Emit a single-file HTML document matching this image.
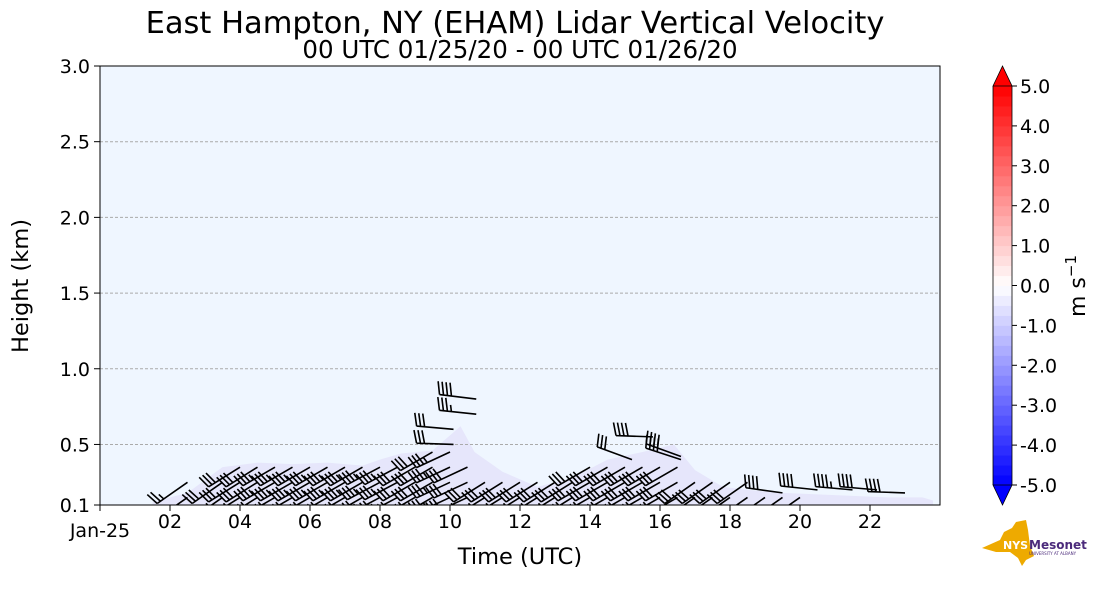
<!DOCTYPE html>
<html><head><meta charset="utf-8"><style>
body{margin:0;background:#fff;font-family:"Liberation Sans","DejaVu Sans",sans-serif}
svg text{font-family:"DejaVu Sans","Liberation Sans",sans-serif}
</style></head><body>
<svg id="c" width="1101" height="600" xmlns="http://www.w3.org/2000/svg">
<defs><clipPath id="pc"><rect x="100" y="66" width="840" height="439"/></clipPath></defs>
<text x="515" y="33" font-size="30.5" text-anchor="middle">East Hampton, NY (EHAM) Lidar Vertical Velocity</text>
<text x="520" y="58" font-size="24.5" text-anchor="middle">00 UTC 01/25/20 - 00 UTC 01/26/20</text>
<rect x="100" y="66" width="840" height="439" fill="#eff6ff"/>
<g clip-path="url(#pc)"><g id="shade"></g><g id="grid"></g><g id="barbs"></g></g>
<rect x="100" y="66" width="840" height="439" fill="none" stroke="#000" stroke-width="1"/>
<g id="axes"></g>
<text x="520" y="564" font-size="22.5" text-anchor="middle">Time (UTC)</text>
<text transform="translate(28,286) rotate(-90)" font-size="22.5" text-anchor="middle">Height (km)</text>
<g id="cbar"></g>
<text transform="translate(1085,286) rotate(-90)" font-size="22" text-anchor="middle">m s<tspan dy="-9" font-size="15">−1</tspan></text>
<g>
<path d="M982,548 L1000,540 L1004,532 L1012,528 L1016,522 L1026,520 L1028,530 L1030,546 L1034,556 L1026,560 L1022,566 L1018,558 L1010,552 L996,552 Z" fill="#eeaa00"/>
<text x="1003" y="549" font-size="11" font-weight="bold" fill="#fff">NYS</text>
<text x="1029" y="549" font-size="12" font-weight="bold" fill="#4b2a7b">Mesonet</text>
<text x="1029" y="555" font-size="4" fill="#4b2a7b">UNIVERSITY AT ALBANY</text>
</g>
</svg>
<script>
const NS="http://www.w3.org/2000/svg";
const X0=100,X1=940,Y0=505,Y1=66,H0=0.1,H1=3.0;
const xs=t=>X0+(t/24)*(X1-X0);
const ys=h=>Y0-(h-H0)/(H1-H0)*(Y0-Y1);
function mk(tag,at,p){const e=document.createElementNS(NS,tag);for(const k in at)e.setAttribute(k,at[k]);p.appendChild(e);return e;}
// data
const yTicks=[0.1,0.5,1.0,1.5,2.0,2.5,3.0];
const yTickLabels=["0.1","0.5","1.0","1.5","2.0","2.5","3.0"];
const xTicks=[0,2,4,6,8,10,12,14,16,18,20,22];
const xTickLabels=["Jan-25","02","04","06","08","10","12","14","16","18","20","22"];
const shadeTimes=[1.5,2.5,3.5,4.5,5.5,6.5,7.5,8.0,8.6,9.5,10.3,10.7,11.5,12.5,13.5,14.5,15.5,16.4,17.0,17.8,18.5,19.5,20.5,21.5,22.5,23.5,23.8];
const shadeTops=[0.12,0.18,0.35,0.38,0.37,0.38,0.36,0.40,0.44,0.46,0.62,0.45,0.32,0.22,0.28,0.40,0.45,0.50,0.33,0.22,0.20,0.18,0.17,0.16,0.15,0.15,0.13];
const colTimes=[2.5,3.5,4.0,4.5,5.0,5.5,6.0,6.5,7.0,7.5,8.0,8.5,9.0,9.5,10.0,10.5,11.0,11.5,12.0,12.5,13.0,13.5,14.0,14.5,15.0,15.5,16.0,16.5,17.0,17.5,18.0,18.5,19.0,19.5,20.0];
const colTops=[0.2,0.2,0.3,0.3,0.3,0.3,0.3,0.3,0.3,0.3,0.3,0.3,0.3,0.4,0.4,0.3,0.2,0.2,0.2,0.2,0.2,0.2,0.3,0.3,0.3,0.3,0.3,0.3,0.2,0.2,0.2,0.2,0.1,0.1,0.1];
const colDirs=[235,235,238,238,240,240,240,240,240,240,242,242,240,240,245,245,238,238,238,238,238,238,240,240,240,240,240,240,235,235,235,235,235,235,235];
const colSpeeds=[25,30,30,30,35,35,35,35,35,35,35,35,30,30,35,30,30,30,30,30,30,30,30,30,30,30,30,30,30,30,30,30,30,30,30];
const upTimes=[10.1,10.1,10.75,10.75,15.8,15.2,16.6,16.6,19.5,20.5,21.5,22.2,23.0];
const upHeights=[0.5,0.6,0.7,0.8,0.55,0.4,0.42,0.4,0.18,0.2,0.2,0.2,0.18];
const upDirs=[272,275,276,277,272,290,290,288,278,276,275,275,272];
const upSpeeds=[30,30,35,40,40,30,40,40,40,40,45,40,40];
const cbLevels=[-5,-4,-3,-2,-1,0,1,2,3,4,5];
const cbLabels=["-5.0","-4.0","-3.0","-2.0","-1.0","0.0","1.0","2.0","3.0","4.0","5.0"];
// shading
const sh=document.getElementById('shade');
let d=`M${xs(shadeTimes[0])},${Y0}`;
shadeTimes.forEach((t,i)=>{d+=` L${xs(t)},${ys(shadeTops[i])}`;});
d+=` L${xs(shadeTimes[shadeTimes.length-1])},${Y0} Z`;
const sp=mk('path',{d:d,fill:'#e6e6fb'},sh);


// grid + axes
const g=document.getElementById('grid'),ax=document.getElementById('axes');
yTicks.forEach((h,i)=>{
 if(i>0&&i<yTicks.length-1){const l=mk('line',{x1:X0,x2:X1,y1:ys(h),y2:ys(h),stroke:'#aaa','stroke-dasharray':'3,2','stroke-width':1},g);
 
 }
 mk('line',{x1:X0-6,x2:X0,y1:ys(h),y2:ys(h),stroke:'#000'},ax);
 const t=mk('text',{x:X0-10,y:ys(h)+7,'font-size':19,'text-anchor':'end'},ax);t.textContent=yTickLabels[i];
 
 
});
xTicks.forEach((h,i)=>{
 mk('line',{x1:xs(h),x2:xs(h),y1:Y0,y2:Y0+6,stroke:'#000'},ax);
 const t=mk('text',{x:xs(h),y:i==0?537:528,'font-size':19,'text-anchor':'middle'},ax);t.textContent=xTickLabels[i];
 
 
});
// barbs
const bg=document.getElementById('barbs');
function barb(t,h,dir,spd){
 const L=37,px=xs(t),py=ys(h),r=dir*Math.PI/180;
 const ux=Math.sin(r),uy=-Math.cos(r),nx=-uy,ny=ux;
 let p=`M${px},${py} L${px+ux*L},${py+uy*L}`;
 let n=Math.floor(spd/10),half=(spd%10)>=5,pos=L;
 for(let k=0;k<n;k++){const bx=px+ux*pos,by=py+uy*pos;p+=` M${bx},${by} L${bx+nx*13+ux*3},${by+ny*13+uy*3}`;pos-=4;}
 if(half){const bx=px+ux*pos,by=py+uy*pos;p+=` M${bx},${by} L${bx+nx*6.5+ux*1.5},${by+ny*6.5+uy*1.5}`;}
 const e=mk('path',{d:p,stroke:'#000','stroke-width':1.6,fill:'none'},bg);
 
 
}
colTimes.forEach((t,i)=>{for(let h=0.1;h<=colTops[i]+1e-6;h+=0.1)barb(t,h+0.05,colDirs[i],colSpeeds[i]);});
upTimes.forEach((t,i)=>barb(t,upHeights[i],upDirs[i],upSpeeds[i]));
// colorbar
const cb=document.getElementById('cbar'),CX=993,CW=19,CT=86,CB=485;
const cy=v=>CB-(v+5)/10*(CB-CT);
function col(v){const a=Math.min(1,Math.abs(v)/5);const w=Math.round(255*(1-a));return v<0?`rgb(${w},${w},255)`:`rgb(255,${w},${w})`;}
for(let v=-5;v<5;v+=0.25){const r=mk('rect',{x:CX,y:cy(v+0.25),width:CW,height:cy(v)-cy(v+0.25)+0.5,fill:col(v+0.125)},cb);
 
 }
const tu=mk('path',{d:`M${CX},${CT} L${CX+CW/2},66 L${CX+CW},${CT} Z`,fill:'#ff0000',stroke:'#000','stroke-width':0.8},cb);


const td=mk('path',{d:`M${CX},${CB} L${CX+CW/2},505 L${CX+CW},${CB} Z`,fill:'#0000ff',stroke:'#000','stroke-width':0.8},cb);


mk('path',{d:`M${CX},${CT} V${CB} M${CX+CW},${CT} V${CB}`,stroke:'#000','stroke-width':0.8},cb);
cbLevels.forEach((v,i)=>{mk('line',{x1:CX+CW,x2:CX+CW+5,y1:cy(v),y2:cy(v),stroke:'#000'},cb);
 const t=mk('text',{x:CX+CW+8,y:cy(v)+7,'font-size':19},cb);t.textContent=cbLabels[i];
 
 });
</script>
</body></html>
